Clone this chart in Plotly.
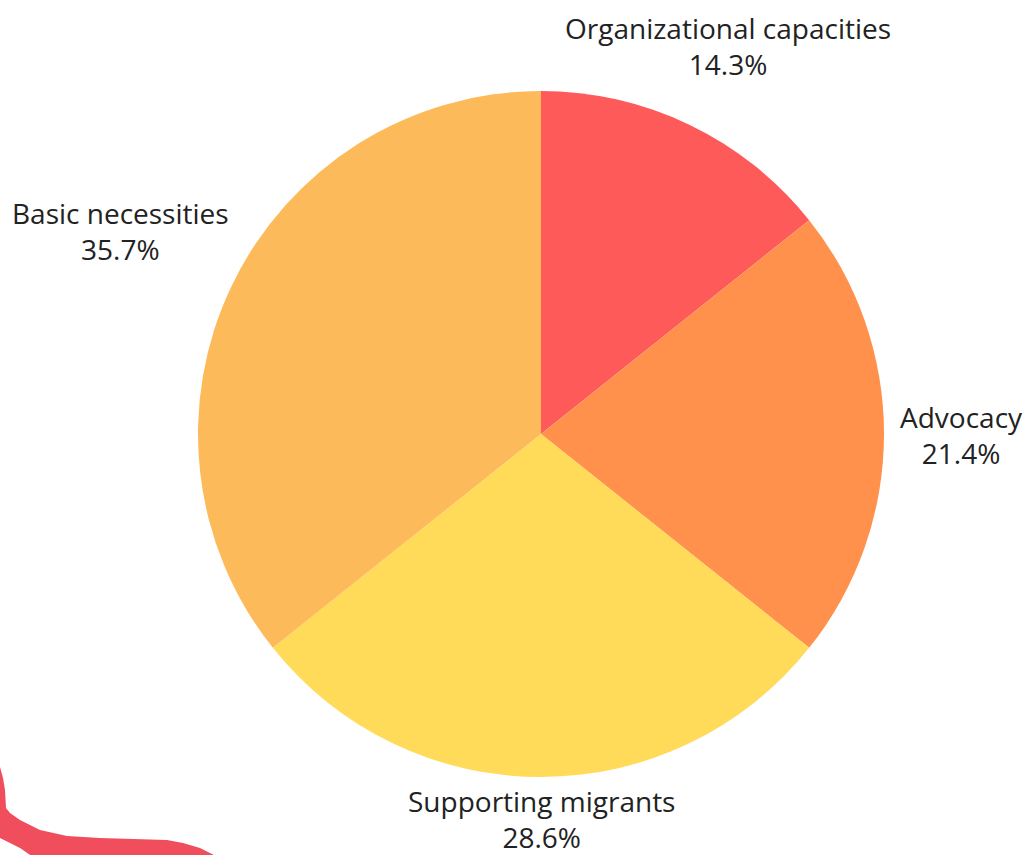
import plotly.graph_objects as go

labels = ["Organizational capacities", "Advocacy", "Supporting migrants", "Basic necessities"]
values = [2, 3, 4, 5]
colors = ["#FF5A5A", "#FF914D", "#FFDB59", "#FDBA5A"]

W, H = 1030, 855
CX, CY, R = 541, 434, 343

# label anchor positions (pixels, centre of the two-line text block)
label_pos = {
    "Organizational capacities": (728, 46),
    "Advocacy": (961, 435),
    "Supporting migrants": (541, 819),
    "Basic necessities": (120, 231),
}

squiggle_pts = [(-2, 767), (0, 767), (3, 778), (5, 790), (6, 808), (10, 813), (20, 820), (40, 830),
                (67, 836), (100, 838), (167, 840), (183, 843), (200, 848), (218, 857),
                (33, 857), (20, 848), (0, 838), (-2, 838)]
path = ""
for i, (x, y) in enumerate(squiggle_pts):
    path += ("M" if i == 0 else "L") + f"{x},{y} "
path += "Z"

total = sum(values)
fig = go.Figure(go.Pie(
    labels=labels, values=values, sort=False, direction="clockwise", rotation=0,
    marker=dict(colors=colors, line=dict(width=0)),
    textinfo="none", showlegend=False, hoverinfo="label+percent",
    domain=dict(x=[(CX - R) / W, (CX + R) / W], y=[1 - (CY + R) / H, 1 - (CY - R) / H]),
))
annotations = []
for lab, val in zip(labels, values):
    x, y = label_pos[lab]
    annotations.append(dict(
        x=x, y=y, xref="x", yref="y", showarrow=False,
        text=f"{lab}<br>{100 * val / total:.1f}%",
        font=dict(size=28, color="#222222", family="Open Sans"),
        xanchor="center", yanchor="middle", align="center",
    ))
fig.update_layout(
    width=W, height=H, margin=dict(l=0, r=0, t=0, b=0),
    paper_bgcolor="white", plot_bgcolor="rgba(0,0,0,0)",
    xaxis=dict(range=[0, W], visible=False, domain=[0, 1], fixedrange=True),
    yaxis=dict(range=[H, 0], visible=False, domain=[0, 1], fixedrange=True),
    shapes=[dict(type="path", xref="x", yref="y", path=path,
                 fillcolor="#F04E5C", line=dict(width=0), layer="below")],
    annotations=annotations,
)
fig.write_html("out.html", config={"displayModeBar": False},
               post_script="document.body.style.margin='0px';document.body.style.overflow='hidden';")
